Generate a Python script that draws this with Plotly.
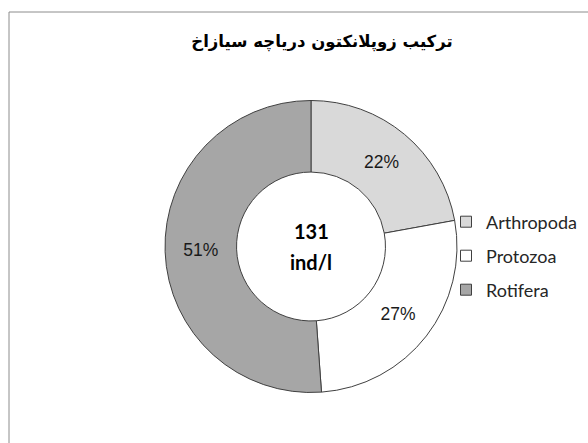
import plotly.graph_objects as go

labels = ["Arthropoda", "Protozoa", "Rotifera"]
values = [29, 35, 67]
colors = ["#d9d9d9", "#ffffff", "#a6a6a6"]
title_text = "ترکیب زوپلانکتون دریاچه سیازاخ"
center_lines = ["131", "ind/l"]

W, H = 588, 443

fig = go.Figure(go.Pie(
    labels=labels,
    values=values,
    hole=0.51,
    sort=False,
    direction="clockwise",
    rotation=0,
    marker=dict(colors=colors, line=dict(color="#404040", width=1)),
    textinfo="percent",
    texttemplate="%{percent:.0%}",
    textposition="inside",
    insidetextorientation="horizontal",
    textfont=dict(family="Liberation Sans, Arial", size=17.5, color="#1a1a1a"),
    domain=dict(x=[165 / W, 457 / W], y=[1 - 394 / H, 1 - 99 / H]),
    showlegend=False,
))

# legend entries (one legend box per entry so the spacing matches the original)
legend_ids = ["legend", "legend2", "legend3"]
legend_y = [222, 256, 290]
for lab, col, lid in zip(labels, colors, legend_ids):
    fig.add_trace(go.Scatter(
        x=[None], y=[None], mode="markers", name=lab, legend=lid,
        marker=dict(symbol="square", size=11, color=col, line=dict(color="#404040", width=1)),
        showlegend=True,
    ))

legend_common = dict(x=446 / W, xanchor="left", yanchor="middle",
                     font=dict(family="Lato, Open Sans", size=18, color="#262626"),
                     bgcolor="rgba(0,0,0,0)")

layout_legends = {lid: dict(legend_common, y=1 - ly / H) for lid, ly in zip(legend_ids, legend_y)}

fig.update_layout(
    width=W, height=H,
    margin=dict(l=0, r=0, t=0, b=0),
    paper_bgcolor="white",
    plot_bgcolor="white",
    xaxis=dict(visible=False),
    yaxis=dict(visible=False),
    title=dict(text=title_text, x=322 / W, xanchor="center", y=1 - 41 / H, yanchor="middle",
               font=dict(family="DejaVu Sans", size=16.5, color="black", weight="bold")),
    annotations=[
        dict(text="<b>%s</b>" % center_lines[0], x=311 / W, y=1 - 231 / H, xref="paper", yref="paper",
             showarrow=False, font=dict(family="Lato, Open Sans", size=20, color="black")),
        dict(text="<b>%s</b>" % center_lines[1], x=311 / W, y=1 - 262 / H, xref="paper", yref="paper",
             showarrow=False, font=dict(family="Lato, Open Sans", size=20, color="black")),
    ],
    shapes=[dict(type="rect", xref="paper", yref="paper", x0=9 / W, y0=-0.05, x1=1.05, y1=1 - 12 / H,
                 line=dict(color="#8c8c8c", width=1))],
    **layout_legends,
)

fig.write_html("out.html")
